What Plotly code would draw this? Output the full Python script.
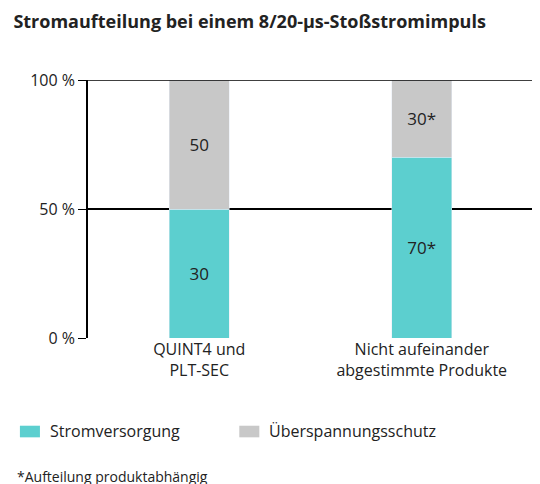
import plotly.graph_objects as go

categories = ["QUINT4 und<br>PLT-SEC", "Nicht aufeinander<br>abgestimmte Produkte"]
strom_height = [50, 70]
strom_labels = ["30", "70*"]
schutz_height = [50, 30]
schutz_labels = ["50", "30*"]

teal = "#5ccfcf"
grey = "#c8c8c8"
font = "Open Sans"

fig = go.Figure()
fig.add_trace(go.Bar(x=categories, y=strom_height, text=strom_labels, marker_color=teal,
                     textposition="inside", insidetextanchor="middle",
                     textfont=dict(size=17, color="#222")))
fig.add_trace(go.Bar(x=categories, y=schutz_height, text=schutz_labels, marker_color=grey,
                     textposition="inside", insidetextanchor="middle",
                     textfont=dict(size=17, color="#222")))

fig.update_layout(
    width=540, height=484, barmode="stack", bargap=0.73, showlegend=False,
    plot_bgcolor="white", paper_bgcolor="white",
    margin=dict(l=80, r=15, t=72, b=154),
    font=dict(family=font, size=16, color="#222"),
    title=dict(text="<b>Stromaufteilung bei einem 8/20-µs-Stoßstromimpuls</b>",
               x=0.01, xanchor="left", y=0.985, yanchor="top", font=dict(size=18)),
    uniformtext=dict(minsize=10, mode="show"),
)
fig.update_yaxes(range=[0, 100], tickvals=[0, 50, 100], ticktext=["0 %", "50 %", "100 %"],
                 showgrid=True, gridcolor="black", gridwidth=1.5, zeroline=False,
                 showline=True, linecolor="black", linewidth=1.5, mirror=True,
                 ticks="outside", ticklen=8, tickcolor="black", tickfont=dict(size=16))
fig.update_xaxes(showline=False, ticks="", tickfont=dict(size=16))
fig.add_shape(type="line", xref="paper", yref="y", x0=0, x1=1, y0=100, y1=100,
              line=dict(color="black", width=1.5))

# legend and footnote
fig.add_shape(type="rect", xref="paper", yref="paper", x0=-0.153, x1=-0.108, y0=-0.385, y1=-0.34,
              fillcolor=teal, line_width=0)
fig.add_annotation(text="Stromversorgung", xref="paper", yref="paper", x=-0.09, y=-0.362,
                   xanchor="left", yanchor="middle", showarrow=False, font=dict(size=16))
fig.add_shape(type="rect", xref="paper", yref="paper", x0=0.34, x1=0.385, y0=-0.385, y1=-0.34,
              fillcolor=grey, line_width=0)
fig.add_annotation(text="Überspannungsschutz", xref="paper", yref="paper", x=0.403, y=-0.362,
                   xanchor="left", yanchor="middle", showarrow=False, font=dict(size=16))
fig.add_annotation(text="*Aufteilung produktabhängig", xref="paper", yref="paper", x=-0.165, y=-0.535,
                   xanchor="left", yanchor="middle", showarrow=False, font=dict(size=14))

fig.write_html("out.html")
